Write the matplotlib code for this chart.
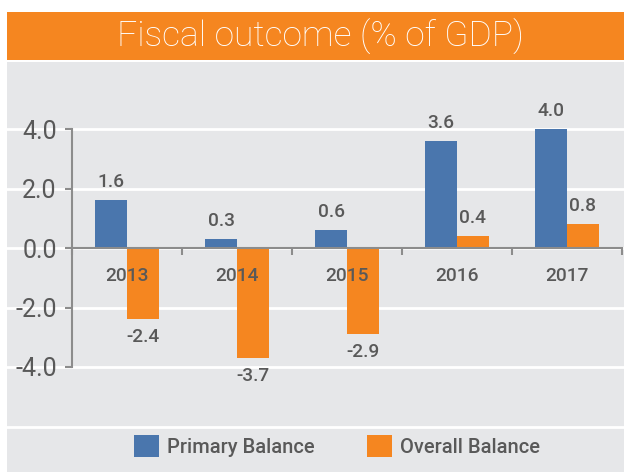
import matplotlib
matplotlib.use("Agg")
import matplotlib.pyplot as plt
from matplotlib.patches import Rectangle
import numpy as np

years = ["2013", "2014", "2015", "2016", "2017"]
primary = [1.6, 0.3, 0.6, 3.6, 4.0]
overall = [-2.4, -3.7, -2.9, 0.4, 0.8]
yticks = [4.0, 2.0, 0.0, -2.0, -4.0]
grid_extra = [-6.0]
title = "Fiscal outcome (% of GDP)"

BLUE = "#4A76AD"
ORANGE = "#F58620"
PANEL = "#E6E7E9"
TXT = "#595959"

W, H = 624, 472
fig = plt.figure(figsize=(W / 100, H / 100), dpi=100, facecolor="white")

def fx(px):
    return px / W

def fy(py):
    return 1 - py / H

# background panel and banner
fig.patches.append(Rectangle((fx(7), 0), 1 - fx(7), fy(62), transform=fig.transFigure,
                             facecolor=PANEL, edgecolor="none", zorder=-10))
fig.patches.append(Rectangle((fx(7), fy(60)), 1 - fx(7), fy(12) - fy(60), transform=fig.transFigure,
                             facecolor=ORANGE, edgecolor="none", zorder=-10))
fig.text(fx(320), fy(37), title, color="white", fontsize=25.5, family="Roboto",
         fontweight="light", ha="center", va="center")

# axes
ax_l, ax_r = 72, 622
ax_t, ax_b = 62, 472
ax = fig.add_axes([fx(ax_l), fy(ax_b), fx(ax_r) - fx(ax_l), fy(ax_t) - fy(ax_b)])
ax.set_facecolor("none")
ax.set_zorder(5)
ppu = 29.75
zero_px = 248
ax.set_ylim((zero_px - ax_b) / ppu, (zero_px - ax_t) / ppu)
ax.set_xlim(-0.5, len(years) - 0.5)

x = np.arange(len(years))
bw = 0.29
ax.bar(x - bw / 2, primary, bw, color=BLUE, zorder=3, label="Primary Balance")
ax.bar(x + bw / 2, overall, bw, color=ORANGE, zorder=3, label="Overall Balance")

# gridlines spanning whole panel
gx0 = (7 - ax_l) / (ax_r - ax_l)
gx1 = (W - ax_l) / (ax_r - ax_l)
for yv in yticks + grid_extra:
    ax.plot([gx0, gx1], [yv, yv], transform=ax.get_yaxis_transform(), color="white",
            lw=2, clip_on=False, zorder=1)

for s in ["top", "right"]:
    ax.spines[s].set_visible(False)
ax.spines["left"].set_bounds(min(yticks), max(yticks))
ax.spines["left"].set_color("#8C8C8C")
ax.spines["left"].set_linewidth(1.5)
ax.spines["left"].set_zorder(4)
ax.spines["bottom"].set_position(("data", 0))
ax.spines["bottom"].set_color("#8C8C8C")
ax.spines["bottom"].set_linewidth(1.5)
ax.spines["bottom"].set_zorder(4)

ax.set_yticks(yticks)
ax.set_yticklabels([f"{v:.1f}" for v in yticks])
ax.tick_params(axis="y", length=5, width=1.5, color="#8C8C8C", labelcolor=TXT,
               labelsize=18, pad=6)
for t in ax.get_yticklabels():
    t.set_family("Roboto")

ax.set_xticks(np.arange(len(years) + 1) - 0.5)
ax.set_xticklabels([])
ax.tick_params(axis="x", length=5, width=1.5, color="#8C8C8C", direction="out")

LBL = 13.8
for i, yr in enumerate(years):
    ax.annotate(yr, (i, 0), xytext=(0, -28 * 0.72), textcoords="offset points",
                ha="center", va="center", fontsize=LBL, color=TXT, family="Roboto",
                fontweight="medium")

for i, v in enumerate(primary):
    off = 18 if v >= 0 else -18
    ax.annotate(f"{v:.1f}", (i - bw / 2, v), xytext=(0, off * 0.72), textcoords="offset points",
                ha="center", va="center", fontsize=LBL, color=TXT, family="Roboto",
                fontweight="medium")
for i, v in enumerate(overall):
    off = 18 if v >= 0 else -18
    ax.annotate(f"{v:.1f}", (i + bw / 2, v), xytext=(0, off * 0.72), textcoords="offset points",
                ha="center", va="center", fontsize=LBL, color=TXT, family="Roboto",
                fontweight="medium")

leg = fig.legend(loc="center", bbox_to_anchor=(fx(337), fy(446)), ncol=2, frameon=False,
                 prop={"family": "Roboto", "size": 14.5, "weight": "medium"},
                 handlelength=1.25, handleheight=1.25, columnspacing=2.6, handletextpad=0.4)
for t in leg.get_texts():
    t.set_color(TXT)

fig.savefig("out.png", dpi=100, facecolor="white")
